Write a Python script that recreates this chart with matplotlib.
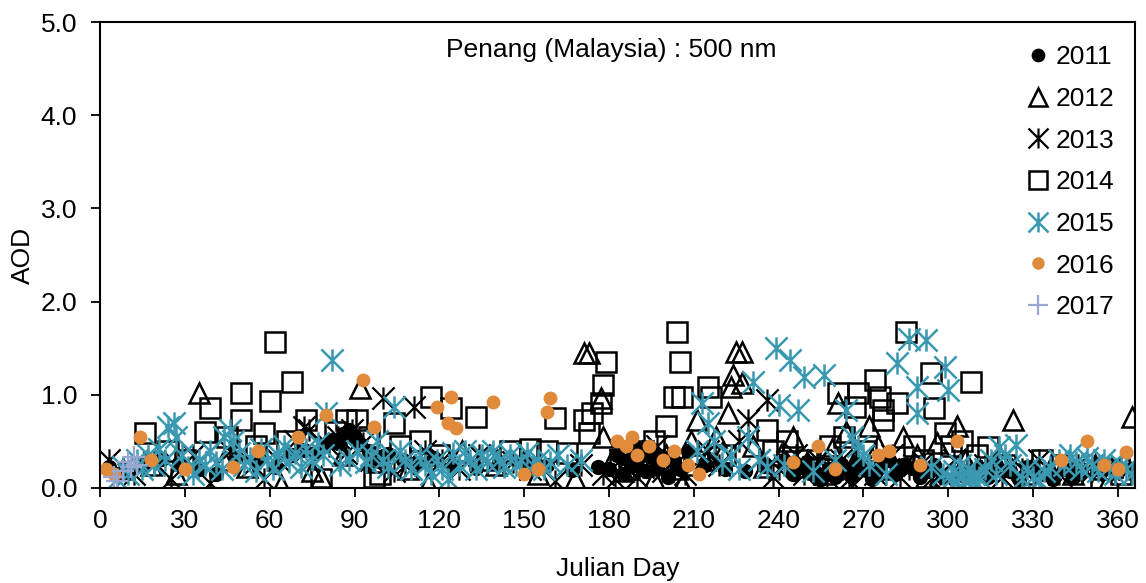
import matplotlib
matplotlib.use("Agg")
import matplotlib.pyplot as plt
from matplotlib.path import Path

plt.rcParams['font.family'] = ['Liberation Sans', 'DejaVu Sans']

# (julian day, AOD), one list per year
pts_2011 = [(3, 0.22), (9, 0.18), (15, 0.25), (22, 0.31), (28, 0.27), (35, 0.2), (41, 0.15),
            (48, 0.33), (55, 0.28), (62, 0.22), (68, 0.35), (72, 0.41), (76, 0.38), (79, 0.45),
            (82, 0.52), (84, 0.48), (86, 0.58), (88, 0.62), (90, 0.55), (92, 0.47), (95, 0.4),
            (98, 0.33), (102, 0.36), (107, 0.3), (112, 0.26), (118, 0.32), (125, 0.24),
            (133, 0.21), (141, 0.28), (150, 0.3), (158, 0.25), (167, 0.19), (176, 0.22),
            (183, 0.35), (187, 0.3), (191, 0.42), (195, 0.37), (199, 0.33), (203, 0.29),
            (208, 0.4), (214, 0.25), (221, 0.2), (228, 0.18), (235, 0.24), (242, 0.3),
            (248, 0.22), (253, 0.17), (258, 0.2), (262, 0.26), (266, 0.14), (271, 0.19),
            (276, 0.23), (281, 0.15), (287, 0.21), (293, 0.18), (298, 0.12), (304, 0.16),
            (311, 0.2), (317, 0.25), (322, 0.18), (328, 0.22), (334, 0.15), (341, 0.2),
            (347, 0.17), (353, 0.23), (359, 0.19),
            (180, 0.2), (185, 0.15), (189, 0.25), (193, 0.18), (197, 0.22), (201, 0.12),
            (205, 0.2), (245, 0.15), (250, 0.28), (255, 0.1), (260, 0.12), (264, 0.2),
            (268, 0.28), (273, 0.1), (279, 0.3), (284, 0.25), (290, 0.12), (295, 0.25),
            (314, 0.12), (319, 0.18), (325, 0.1), (331, 0.16), (337, 0.1), (344, 0.12)]

pts_2012 = [(35, 1.02), (92, 1.07), (171, 1.45), (173, 1.45), (177, 0.97), (178, 0.55),
            (224, 1.21), (225, 1.46), (227, 1.46), (227, 1.13), (223, 1.08), (222, 0.8),
            (211, 0.73), (261, 0.91), (272, 0.66), (303, 0.66), (323, 0.73), (365, 0.76),
            (64, 0.03), (116, 0.04), (206, 0.04),
            (8, 0.2), (18, 0.25), (27, 0.15), (44, 0.3), (52, 0.22), (75, 0.18), (78, 0.12),
            (86, 0.35), (98, 0.28), (109, 0.2), (128, 0.4), (140, 0.25), (155, 0.15),
            (168, 0.1), (181, 0.3), (185, 0.18), (189, 0.42), (193, 0.25), (196, 0.1),
            (200, 0.35), (204, 0.2), (209, 0.5), (214, 0.3), (218, 0.55), (220, 0.38),
            (231, 0.45), (235, 0.22), (241, 0.35), (245, 0.55), (250, 0.28), (256, 0.15),
            (259, 0.42), (264, 0.6), (267, 0.3), (275, 0.45), (279, 0.2), (284, 0.55),
            (289, 0.35), (292, 0.12), (296, 0.48), (306, 0.3), (311, 0.2), (318, 0.35),
            (336, 0.2), (344, 0.15), (352, 0.25), (357, 0.1), (362, 0.3)]

pts_2013 = [(3, 0.3), (100, 0.97), (111, 0.87), (236, 0.94), (229, 0.73), (266, 0.02),
            (72, 0.65), (12, 0.15), (19, 0.28), (25, 0.1), (33, 0.35), (39, 0.05), (46, 0.4),
            (54, 0.25), (58, 0.1), (63, 0.3), (69, 0.5), (74, 0.62), (81, 0.45), (84, 0.55),
            (87, 0.38), (89, 0.62), (93, 0.48), (96, 0.3), (104, 0.18), (108, 0.25),
            (115, 0.4), (121, 0.3), (127, 0.2), (134, 0.35), (146, 0.28), (152, 0.2),
            (161, 0.08), (170, 0.25), (178, 0.15), (184, 0.3), (188, 0.4), (192, 0.22),
            (197, 0.45), (201, 0.3), (207, 0.15), (215, 0.4), (219, 0.25), (226, 0.5),
            (233, 0.3), (240, 0.2), (246, 0.35), (252, 0.22), (257, 0.12), (262, 0.3),
            (270, 0.25), (274, 0.15), (280, 0.35), (286, 0.2), (291, 0.28), (297, 0.15),
            (302, 0.3), (308, 0.18), (313, 0.25), (319, 0.12), (326, 0.2), (332, 0.3),
            (339, 0.15), (346, 0.25), (351, 0.18), (358, 0.22), (364, 0.2),
            (182, 0.1), (186, 0.22), (190, 0.12), (195, 0.3), (199, 0.18), (203, 0.25),
            (238, 0.12), (243, 0.28), (249, 0.15), (254, 0.3), (259, 0.2), (265, 0.1),
            (277, 0.3), (283, 0.12), (288, 0.25), (294, 0.1)]

pts_2014 = [(62, 1.57), (50, 1.02), (39, 0.86), (60, 0.93), (50, 0.73), (16, 0.59), (37, 0.6),
            (58, 0.59), (68, 1.14), (73, 0.73), (87, 0.73), (91, 0.73), (104, 0.7), (117, 0.98),
            (124, 0.86), (133, 0.76), (161, 0.75), (179, 1.35), (178, 1.1), (177, 0.91),
            (174, 0.8), (171, 0.73), (173, 0.59), (204, 1.67), (205, 1.35), (203, 0.98),
            (206, 0.98), (215, 1.08), (216, 0.98), (200, 0.66), (236, 0.62), (285, 1.67),
            (294, 1.23), (308, 1.14), (295, 0.86), (261, 1.02), (274, 1.16), (268, 1.02),
            (276, 0.98), (282, 0.91), (277, 0.84), (267, 0.87), (277, 0.73), (299, 0.59),
            (314, 0.44), (97, 0.12),
            (24, 0.4), (30, 0.3), (45, 0.55), (55, 0.45), (66, 0.5), (78, 0.1), (83, 0.6),
            (95, 0.55), (99, 0.15), (106, 0.45), (113, 0.5), (120, 0.35), (137, 0.3),
            (145, 0.4), (152, 0.42), (158, 0.4), (165, 0.38), (184, 0.3), (187, 0.2),
            (192, 0.4), (196, 0.5), (210, 0.25), (221, 0.35), (238, 0.4), (243, 0.5),
            (250, 0.3), (254, 0.2), (258, 0.45), (263, 0.55), (271, 0.4), (288, 0.45),
            (291, 0.3), (301, 0.45), (305, 0.5), (310, 0.35), (320, 0.25), (327, 0.15),
            (333, 0.3), (340, 0.25), (347, 0.1), (355, 0.2), (361, 0.15)]

pts_2015 = [(82, 1.37), (104, 0.87), (80, 0.8), (231, 1.14), (239, 1.5), (244, 1.37),
            (249, 1.19), (256, 1.21), (247, 0.84), (213, 0.91), (240, 0.89), (215, 0.7),
            (229, 0.55), (264, 0.84), (286, 1.6), (292, 1.59), (282, 1.34), (299, 1.3),
            (289, 1.08), (300, 1.05), (289, 0.8), (318, 0.44), (324, 0.46),
            (6, 0.1), (8, 0.22), (10, 0.15), (13, 0.3), (15, 0.2), (17, 0.35), (19, 0.25),
            (21, 0.42), (23, 0.3), (24, 0.65), (26, 0.7), (27, 0.55), (29, 0.35), (31, 0.22),
            (33, 0.15), (35, 0.3), (37, 0.25), (39, 0.4), (41, 0.28), (43, 0.2), (44, 0.55),
            (46, 0.62), (47, 0.5), (49, 0.38), (51, 0.25), (53, 0.32), (55, 0.18), (57, 0.42),
            (59, 0.3), (61, 0.2), (63, 0.35), (65, 0.45), (67, 0.28), (69, 0.38), (71, 0.22),
            (73, 0.42), (75, 0.3), (77, 0.48), (79, 0.35), (85, 0.25), (88, 0.3), (91, 0.4),
            (94, 0.28), (96, 0.35), (98, 0.5), (100, 0.3), (102, 0.22), (106, 0.4),
            (108, 0.3), (110, 0.2), (113, 0.35), (115, 0.25), (117, 0.15), (119, 0.3),
            (121, 0.2), (123, 0.1), (125, 0.38), (127, 0.25), (129, 0.4), (131, 0.3),
            (133, 0.2), (135, 0.35), (137, 0.28), (139, 0.4), (141, 0.3), (143, 0.22),
            (145, 0.35), (147, 0.25), (149, 0.3), (151, 0.38), (153, 0.25), (155, 0.3),
            (157, 0.2), (159, 0.28), (162, 0.35), (165, 0.25), (170, 0.3),
            (211, 0.4), (217, 0.5), (220, 0.27), (223, 0.35), (226, 0.2), (233, 0.3),
            (236, 0.22), (242, 0.25), (252, 0.18), (260, 0.3), (266, 0.55), (268, 0.45),
            (270, 0.35), (272, 0.25), (278, 0.15), (294, 0.22), (298, 0.15),
            (301, 0.1), (302, 0.18), (303, 0.06), (304, 0.25), (305, 0.12), (306, 0.08),
            (307, 0.2), (308, 0.1), (309, 0.15), (310, 0.05), (311, 0.12), (313, 0.2),
            (315, 0.3), (317, 0.15), (320, 0.35), (322, 0.25), (326, 0.1), (328, 0.2),
            (330, 0.12), (332, 0.08), (334, 0.18), (336, 0.22), (339, 0.3), (341, 0.25),
            (343, 0.35), (345, 0.28), (347, 0.2), (349, 0.32), (351, 0.25), (353, 0.18),
            (355, 0.3), (357, 0.22), (359, 0.15), (361, 0.25), (363, 0.2), (365, 0.15)]

pts_2016 = [(2, 0.2), (5, 0.15), (14, 0.55), (18, 0.3), (30, 0.2), (47, 0.22), (56, 0.4),
            (70, 0.55), (80, 0.78), (93, 1.16), (97, 0.65), (119, 0.87), (123, 0.7),
            (124, 0.98), (126, 0.64), (139, 0.92), (159, 0.97), (158, 0.82), (150, 0.15),
            (155, 0.2), (183, 0.5), (186, 0.45), (188, 0.55), (190, 0.35), (194, 0.45),
            (199, 0.3), (203, 0.4), (212, 0.15), (208, 0.25), (245, 0.28), (254, 0.45),
            (260, 0.2), (275, 0.35), (279, 0.4), (290, 0.25), (303, 0.5), (349, 0.5),
            (363, 0.39), (355, 0.25), (340, 0.3), (360, 0.2)]

pts_2017 = [(5, 0.12), (6, 0.08), (8, 0.18), (10, 0.28), (11, 0.22), (12, 0.33), (13, 0.25)]

years = ['2011', '2012', '2013', '2014', '2015', '2016', '2017']
series = [pts_2011, pts_2012, pts_2013, pts_2014, pts_2015, pts_2016, pts_2017]

# excel style star: an X with a vertical bar
star = Path([(-1, -1), (1, 1), (-1, 1), (1, -1), (0, -1), (0, 1)],
            [Path.MOVETO, Path.LINETO, Path.MOVETO, Path.LINETO, Path.MOVETO, Path.LINETO])

teal = '#3A98B0'
orange = '#E08A3C'
lilac = '#98A6D2'

styles = [
    dict(marker='o', ms=11, mfc='black', mec='black', mew=0),
    dict(marker='^', ms=14, mfc='none', mec='black', mew=1.8),
    dict(marker=star, ms=16, mfc='none', mec='black', mew=1.6),
    dict(marker='s', ms=14, mfc='none', mec='black', mew=1.8),
    dict(marker=star, ms=16, mfc='none', mec=teal, mew=1.8),
    dict(marker='o', ms=10, mfc=orange, mec=orange, mew=0),
    dict(marker='+', ms=16, mfc='none', mec=lilac, mew=1.6),
]

fig = plt.figure(figsize=(11.46, 5.83), dpi=100)
ax = fig.add_axes([0.0873, 0.163, 0.903, 0.799])

for year, pts, st in zip(years, series, styles):
    days = [p[0] for p in pts]
    aod = [p[1] for p in pts]
    ax.plot(days, aod, linestyle='none', label=year, **st)

ax.set_xlim(0, 366)
ax.set_ylim(0, 5)
ax.set_xticks(range(0, 361, 30))
ax.set_yticks([0, 1, 2, 3, 4, 5])
ax.set_yticklabels(['%.1f' % v for v in [0, 1, 2, 3, 4, 5]])
ax.tick_params(direction='out', length=6.5, width=1.3, labelsize=19)
ax.tick_params(axis='x', pad=9)
ax.tick_params(axis='y', pad=10)
for sp in ax.spines.values():
    sp.set_linewidth(1.5)

ax.set_xlabel('Julian Day', fontsize=19, labelpad=17)
ax.set_ylabel('AOD', fontsize=19, labelpad=4)
ax.text(0.494, 0.94, 'Penang (Malaysia) : 500 nm', transform=ax.transAxes,
        ha='center', va='center', fontsize=19)

ax.legend(loc='upper right', frameon=False, fontsize=19, handlelength=1.0,
          handletextpad=0.15, labelspacing=0.67, markerscale=0.9,
          borderaxespad=0.3, bbox_to_anchor=(0.998, 0.99))

fig.savefig('out.png', dpi=100)
